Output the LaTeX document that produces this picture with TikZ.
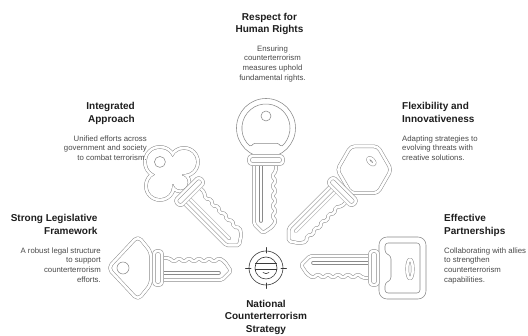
\documentclass[tikz,border=0pt]{standalone}
\usepackage{fontspec}
\setmainfont{Liberation Sans}
\usetikzlibrary{positioning}

\definecolor{keygray}{HTML}{8A8A8A}
\definecolor{icondark}{HTML}{3A3A3A}
\definecolor{headtext}{HTML}{1E1E1E}
\definecolor{bodytext}{HTML}{4A4A4A}

% blade and collar shared by all keys, tip towards the origin
\newcommand\keyblade{%
  \draw[keyline, rounded corners=1.8pt] (106,12) -- (44,12) -- (35,3) -- (41,-6)
    foreach \t in {47,57,67,77,87} { -- (\t,-10) -- ({\t+5},-6) }
    -- (97,-10) -- (106,-10) -- cycle;
  \draw[keyline, line cap=round] (47,5) -- (104,5);}
\newcommand\keycollar{%
  \draw[keyline, rounded corners=3pt] (104,-17) rectangle (112,17);}
\newcommand\cloverlobes[1]{%
  (150,0) circle[radius={15+(#1)}] (133,17) circle[radius={14+(#1)}]
  (133,-17) circle[radius={14+(#1)}] (138,0) circle[radius={16+(#1)}]
  (121,0) circle[radius={9+(#1)}]}

\begin{document}
\begin{tikzpicture}[x=1pt, y=1pt,
  keyline/.style={draw=keygray, line width=0.5pt, double=white,
    double distance=2.6pt, fill=white, line join=round},
  keythin/.style={draw=keygray, line width=0.55pt},
  iconline/.style={draw=icondark, line width=0.6pt, line cap=round},
  heading/.style={inner sep=0pt, text=headtext,
    font=\fontsize{10}{12.8}\selectfont\bfseries},
  blurb/.style={inner sep=0pt, text=bodytext,
    font=\fontsize{7.8}{9.6}\selectfont}]
  \path[fill=white, use as bounding box] (-266,-68) rectangle (262,268);

  % left key, diamond head
  \begin{scope}[rotate=180]
    \keyblade
    \draw[keyline, rounded corners=5pt] (158,0) -- (128,32) -- (115,16)
      -- (115,-16) -- (128,-32) -- cycle;
    \draw[keythin] (143,0) circle[radius=6];
    \keycollar
  \end{scope}

  % upper left key, clover head
  \begin{scope}[rotate=135]
    \keyblade
    \fill[keygray] \cloverlobes{1.8};
    \fill[white] \cloverlobes{1.3};
    \fill[keygray] \cloverlobes{-1.3};
    \fill[white] \cloverlobes{-1.8};
    \draw[keythin] (150,0) circle[radius=5.5];
    \keycollar
  \end{scope}

  % top key, round head
  \begin{scope}[rotate=90]
    \keyblade
    \draw[keythin, fill=white] (140,0) circle[radius=29.5];
    \draw[keythin, rounded corners=1.5pt] (124.7,12.5) -- (121.3,15)
      arc[start angle=141.3, end angle=-141.3, radius=24] -- (124.7,-12.5) -- cycle;
    \draw[keythin] (152,0) circle[radius=5];
    \keycollar
  \end{scope}

  % upper right key, hexagon head
  \begin{scope}[rotate=45]
    \keyblade
    \begin{scope}[shift={(139,0)}]
      \draw[keyline, rounded corners=4pt] (15:27)
        foreach \a in {75,135,...,315} { -- (\a:27) } -- cycle;
    \end{scope}
    \draw[keyline] (150,1) ellipse[x radius=2.2, y radius=4.2];
    \keycollar
  \end{scope}

  % right key, square head
  \begin{scope}
    \keyblade
    \draw[keythin, fill=white, rounded corners=8pt] (113,-31) rectangle (160,31);
    \draw[keythin, rounded corners=3pt] (119,15) -- (119,25) -- (154,25)
      -- (154,-25) -- (119,-25) -- (119,-15) -- (125,-12) -- (125,12) -- cycle;
    \draw[keyline] (144,-1) ellipse[x radius=2.8, y radius=9.5];
    \keycollar
  \end{scope}

  % centre target with masked face
  \node[draw=icondark, circle, line width=0.6pt, minimum size=34pt, inner sep=0pt] (target) at (0,0) {};
  \foreach \a in {0,90,180,270}
    \draw[iconline] (\a:15) -- (\a:20.5);
  \draw[iconline] (0,0) circle[radius=11];
  \draw[iconline] (-10.6,4.5) -- (10.6,4.5) (-10.9,-1.5) -- (10.9,-1.5);
  \draw[iconline] (-3,-4.5) .. controls (-1.5,-6) and (1.5,-6) .. (3,-4.5);

  \node[heading, align=center, below=14.3pt of target] (national)
    {National\\Counterterrorism\\Strategy};

  \node[heading, align=center, anchor=north] (rights) at (3.5,255.3)
    {Respect for\\Human Rights};
  \node[blurb, align=center, anchor=north] (rightstext) at (6.5,222.6)
    {Ensuring\\counterterrorism\\measures uphold\\fundamental rights.};

  \node[heading, align=right, anchor=north east] (integrated) at (-131,165.5)
    {Integrated\\Approach};
  \node[blurb, align=right, anchor=north east] (integratedtext) at (-119,132.6)
    {Unified efforts across\\government and society\\to combat terrorism.};

  \node[heading, align=right, anchor=north east] (legal) at (-168.3,53.6)
    {Strong Legislative\\Framework};
  \node[blurb, align=right, anchor=north east] (legaltext) at (-165,20.6)
    {A robust legal structure\\to support\\counterterrorism\\efforts.};

  \node[heading, align=left, anchor=north west] (flexible) at (136,165.5)
    {Flexibility and\\Innovativeness};
  \node[blurb, align=left, anchor=north west] (flexibletext) at (136,132.6)
    {Adapting strategies to\\evolving threats with\\creative solutions.};

  \node[heading, align=left, anchor=north west] (partners) at (178,53.6)
    {Effective\\Partnerships};
  \node[blurb, align=left, anchor=north west] (partnerstext) at (178,20.6)
    {Collaborating with allies\\to strengthen\\counterterrorism\\capabilities.};
\end{tikzpicture}
\end{document}
